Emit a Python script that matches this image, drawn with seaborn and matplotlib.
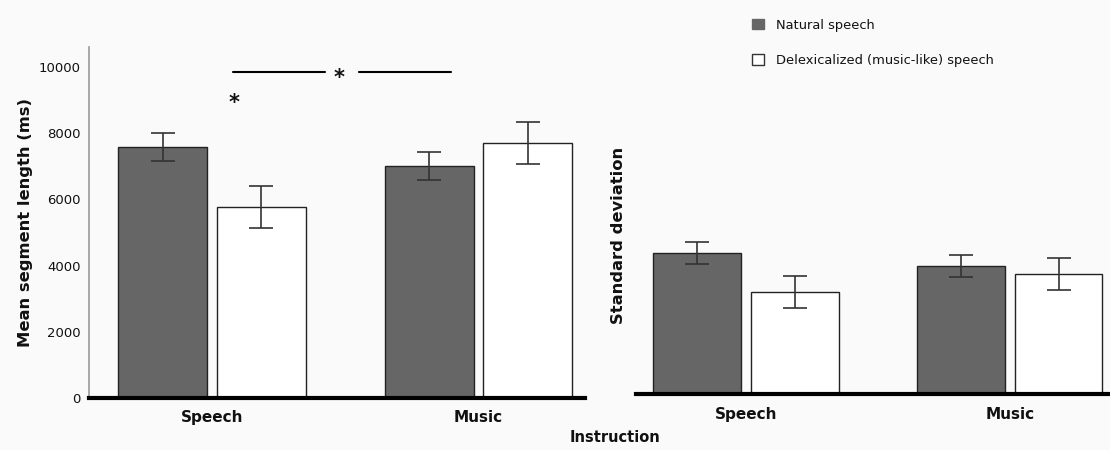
import numpy as np
import pandas as pd
import seaborn as sns
import matplotlib.pyplot as plt
from matplotlib.patches import Patch

# Conditions
instructions = ["Speech", "Music"]
stimuli = ["Natural speech", "Delexicalized (music-like) speech"]

# Mean segment length (ms) and error bar half-widths
natural_mean = [7580, 7010]
natural_mean_err = [420, 420]
delex_mean = [5770, 7700]
delex_mean_err = [630, 620]

# Standard deviation of segment length and error bar half-widths
natural_sd = [4260, 3870]
natural_sd_err = [330, 335]
delex_sd = [3080, 3625]
delex_sd_err = [480, 485]

yticks = [0, 2000, 4000, 6000, 8000, 10000]

df = pd.DataFrame({
    "Instruction": instructions * 2,
    "Stimulus": [stimuli[0]] * 2 + [stimuli[1]] * 2,
    "mean": natural_mean + delex_mean,
    "sd": natural_sd + delex_sd,
})
mean_errs = [natural_mean_err, delex_mean_err]
sd_errs = [natural_sd_err, delex_sd_err]

sns.set_style("white")
plt.rcParams["font.family"] = ["DejaVu Sans"]
plt.rcParams["text.color"] = "#111111"
plt.rcParams["axes.labelcolor"] = "#111111"
plt.rcParams["xtick.color"] = "#111111"
plt.rcParams["ytick.color"] = "#111111"

bg = "#fafafa"
fill = ["#666666", "#ffffff"]

fig = plt.figure(figsize=(11.1, 4.5), dpi=100, facecolor=bg)
ax1 = fig.add_axes([0.0802, 0.1156, 0.4468, 0.78])
ax2 = fig.add_axes([0.573, 0.1244, 0.427, 0.7066])
for ax in (ax1, ax2):
    ax.set_facecolor(bg)


def draw_panel(ax, col, errs):
    sns.barplot(data=df, x="Instruction", y=col, hue="Stimulus",
                order=instructions, hue_order=stimuli, palette=fill,
                saturation=1, width=0.74, gap=0.1, errorbar=None,
                edgecolor="#222222", linewidth=1.0, legend=False, ax=ax)
    for container, err in zip(ax.containers, errs):
        for bar, e in zip(container, err):
            cx = bar.get_x() + bar.get_width() / 2
            ax.errorbar(cx, bar.get_height(), yerr=e, fmt="none",
                        ecolor="#333333", elinewidth=1.2, capsize=8.5,
                        capthick=1.2, zorder=4)
    for s in ("top", "right"):
        ax.spines[s].set_visible(False)
    ax.spines["bottom"].set_color("black")
    ax.spines["bottom"].set_linewidth(3)
    ax.set_xlabel("")
    ax.tick_params(axis="both", length=0)
    ax.tick_params(axis="x", pad=9, labelsize=11)
    for lab in ax.get_xticklabels():
        lab.set_fontweight("bold")


# Left panel: mean segment length
draw_panel(ax1, "mean", mean_errs)
ax1.set_xlim(-0.462, 1.40)
ax1.set_ylim(0, 10600)
ax1.set_yticks(yticks)
ax1.set_yticklabels([str(t) for t in yticks])
ax1.tick_params(axis="y", pad=6, labelsize=9.5)
ax1.spines["left"].set_color("#999999")
ax1.spines["left"].set_linewidth(1.2)
ax1.set_ylabel("Mean segment length (ms)", fontsize=11.8,
               fontweight="bold", labelpad=4)

# Significance markers
ax1.plot([0.079, 0.425], [9850, 9850], color="black", lw=1.5)
ax1.plot([0.553, 0.898], [9850, 9850], color="black", lw=1.5)
ax1.text(0.477, 9650, "*", ha="center", va="center", fontsize=15,
         fontweight="bold")
ax1.text(0.083, 8900, "*", ha="center", va="center", fontsize=15,
         fontweight="bold")

# Right panel: standard deviation
draw_panel(ax2, "sd", sd_errs)
ax2.set_xlim(-0.417, 1.38)
ax2.set_ylim(0, 9600)
ax2.set_yticks([])
ax2.spines["left"].set_visible(False)
ax2.set_ylabel("Standard deviation", fontsize=11.8, fontweight="bold",
               labelpad=7)

fig.text(0.554, 0.027, "Instruction", ha="center", va="center",
         fontsize=10.5, fontweight="bold")

handles = [Patch(facecolor=fill[0], edgecolor="#666666"),
           Patch(facecolor=fill[1], edgecolor="#333333")]
fig.legend(handles, stimuli, loc="upper left", bbox_to_anchor=(0.667, 0.985),
           frameon=False, handlelength=0.9, handleheight=0.9,
           labelspacing=1.75, handletextpad=0.9, fontsize=9.4)

fig.savefig("out.png", dpi=100, facecolor=bg)
